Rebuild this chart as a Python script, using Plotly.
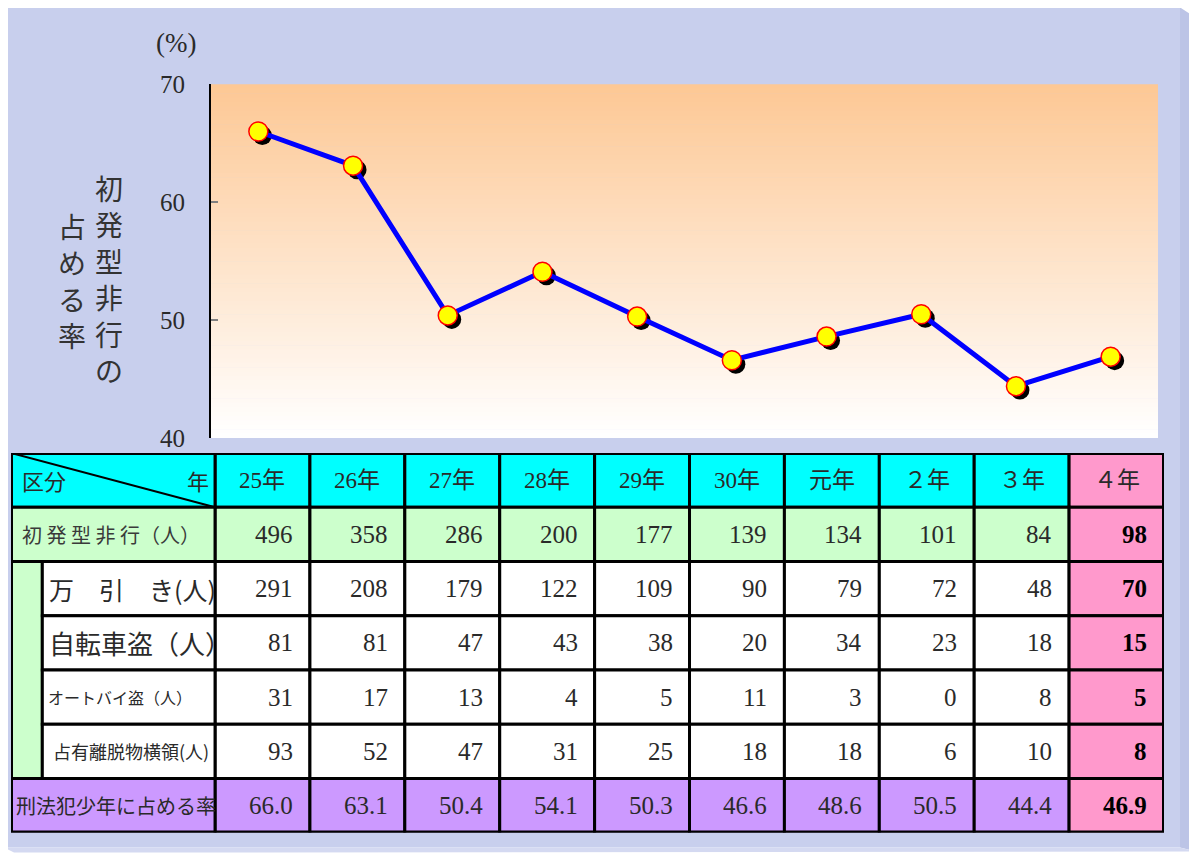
import plotly.graph_objects as go

# ---------------- data ----------------
categories = ["25年", "26年", "27年", "28年", "29年", "30年", "元年", "２年", "３年", "４年"]
first_offense = [496, 358, 286, 200, 177, 139, 134, 101, 84, 98]
shoplifting = [291, 208, 179, 122, 109, 90, 79, 72, 48, 70]
bicycle_theft = [81, 81, 47, 43, 38, 20, 34, 23, 18, 15]
motorbike_theft = [31, 17, 13, 4, 5, 11, 3, 0, 8, 5]
embezzlement = [93, 52, 47, 31, 25, 18, 18, 6, 10, 8]
rate = [66.0, 63.1, 50.4, 54.1, 50.3, 46.6, 48.6, 50.5, 44.4, 46.9]
row_labels = ["初 発 型 非 行（人）", "万　引　き(人)", "自転車盗（人）",
              "オートバイ盗（人）", "占有離脱物横領(人)", "刑法犯少年に占める率"]
y_ticks = [40, 50, 60, 70]

# ---------------- geometry helpers ----------------
W, H = 1197, 855
OX, OY, PH = 8.0, 20.6, 828.8   # observed placement of the paper area in the page


def fx(p):
    return (p - OX) / W


def fy(p):
    return 1 - (p - OY) / PH


SERIF = "Liberation Serif, Noto Sans CJK JP"
JP = "Noto Sans CJK JP"
TXT = "#2a2a2a"

fig = go.Figure()

# shadow markers (same data, axes shifted a few pixels)
fig.add_trace(go.Scatter(x=categories, y=rate, mode="markers",
                         marker=dict(color="black", size=19),
                         xaxis="x", yaxis="y", hoverinfo="skip", showlegend=False))
# main line
fig.add_trace(go.Scatter(x=categories, y=rate, mode="lines+markers",
                         line=dict(color="#0000ff", width=5),
                         marker=dict(color="#ffff00", size=19,
                                     line=dict(color="#ff0000", width=1.5)),
                         xaxis="x2", yaxis="y2", showlegend=False))
# table axes placeholder
fig.add_trace(go.Scatter(x=[None], y=[None], mode="markers", xaxis="x3", yaxis="y3",
                         showlegend=False, hoverinfo="skip"))

shapes = []
# panel background
shapes.append(dict(type="rect", xref="paper", yref="paper", x0=fx(4), x1=fx(1180),
                   y0=fy(848), y1=fy(7), fillcolor="#c8cfed", line=dict(width=0), layer="below"))
shapes.append(dict(type="path", xref="paper", yref="paper",
                   path=f"M {fx(1180)} {fy(7)} L {fx(1197)} {fy(18)} L {fx(1197)} {fy(852)} "
                        f"L {fx(1180)} {fy(848)} Z",
                   fillcolor="#bcc4e6", line=dict(width=0), layer="below"))
shapes.append(dict(type="path", xref="paper", yref="paper",
                   path=f"M {fx(4)} {fy(848)} L {fx(1180)} {fy(848)} L {fx(1197)} {fy(852)} "
                        f"L {fx(14)} {fy(853)} Z",
                   fillcolor="#d4d9f1", line=dict(width=0), layer="below"))

# gradient plot background
top_c = (253, 200, 149)
bot_c = (255, 255, 255)
N = 80
y_top, y_bot = 84, 438
for i in range(N):
    t = i / (N - 1)
    col = tuple(round(top_c[k] + (bot_c[k] - top_c[k]) * t) for k in range(3))
    a = y_top + (y_bot - y_top) * i / N
    b = y_top + (y_bot - y_top) * (i + 1) / N + 0.6
    shapes.append(dict(type="rect", xref="paper", yref="paper", x0=fx(211), x1=fx(1158),
                       y0=fy(min(b, y_bot)), y1=fy(a),
                       fillcolor="rgb(%d,%d,%d)" % col, line=dict(width=0), layer="below"))

# ---------------- table ----------------
LW = 2.15
IND = 0.33
CYAN, GREEN, PINK, PURPLE, WHITE = "#00ffff", "#ccffcc", "#ff99cc", "#cc99ff", "#ffffff"
BL = dict(color="black", width=3)


def cell(x0, x1, y0, y1, fill, line=BL):
    shapes.append(dict(type="rect", xref="x3", yref="y3", x0=x0, x1=x1, y0=y0, y1=y1,
                       fillcolor=fill, line=line))


row_fill = [CYAN, GREEN, WHITE, WHITE, WHITE, WHITE, PURPLE]
for r in range(7):
    for c in range(len(categories)):
        fill = PINK if c == len(categories) - 1 else row_fill[r]
        cell(c, c + 1, r, r + 1, fill)
# label column
cell(-LW, 0, 0, 1, CYAN)
cell(-LW, 0, 1, 2, GREEN)
cell(-LW, -LW + IND, 2, 6, GREEN)
for r in range(2, 6):
    cell(-LW + IND, 0, r, r + 1, WHITE)
cell(-LW, 0, 6, 7, PURPLE)
shapes.append(dict(type="line", xref="x3", yref="y3", x0=-LW, y0=0, x1=0, y1=1,
                   line=dict(color="black", width=2)))
shapes.append(dict(type="rect", xref="x3", yref="y3", x0=-LW, x1=len(categories), y0=0, y1=7,
                   line=dict(color="black", width=4), fillcolor="rgba(0,0,0,0)"))

ann = []
# header
ann.append(dict(text="区分", xref="paper", yref="y3", x=fx(20), y=0.5, xanchor="left",
                yanchor="middle", showarrow=False, font=dict(family=JP, size=22, color=TXT)))
ann.append(dict(text="年", xref="paper", yref="y3", x=fx(211), y=0.5, xanchor="right",
                yanchor="middle", showarrow=False, font=dict(family=JP, size=22, color=TXT)))
for c, lab in enumerate(categories):
    ann.append(dict(text=lab, xref="x3", yref="y3", x=c + 0.5, y=0.5, xanchor="center",
                    yanchor="middle", showarrow=False, font=dict(family=SERIF, size=23, color=TXT)))

label_x = [20, 47, 47, 46, 51, 14]
label_size = [20, 25, 26, 16, 18, 20]
for i, lab in enumerate(row_labels):
    ann.append(dict(text=lab, xref="paper", yref="y3", x=fx(label_x[i]), y=i + 1.5,
                    xanchor="left", yanchor="middle", showarrow=False,
                    font=dict(family=JP, size=label_size[i], color="#3a3a3a" if i == 0 else TXT)))

rows = [first_offense, shoplifting, bicycle_theft, motorbike_theft, embezzlement, rate]
for r, vals in enumerate(rows):
    for c, v in enumerate(vals):
        s = f"{v:.1f}" if r == 5 else str(v)
        last = c == len(vals) - 1
        ann.append(dict(text=f"<b>{s}</b>" if last else s, xref="x3", yref="y3", x=c + 1,
                        y=r + 1.5, xanchor="right", yanchor="middle", xshift=-15,
                        showarrow=False,
                        font=dict(family=SERIF, size=25, color="black" if last else TXT)))

# axis unit and vertical title
ann.append(dict(text="(%)", xref="paper", yref="paper", x=fx(176), y=fy(43), xanchor="center",
                yanchor="middle", showarrow=False, font=dict(family=SERIF, size=27, color=TXT)))
ann.append(dict(text="<br>".join("初発型非行の"), xref="paper", yref="paper", x=fx(109), y=fy(279),
                xanchor="center", yanchor="middle", showarrow=False,
                font=dict(family=JP, size=28, color="#333333")))
ann.append(dict(text="<br>".join("占める率"), xref="paper", yref="paper", x=fx(72), y=fy(280),
                xanchor="center", yanchor="middle", showarrow=False,
                font=dict(family=JP, size=28, color="#333333")))

hidden = dict(visible=False, showgrid=False, zeroline=False)
fig.update_layout(
    width=W, height=H, autosize=False,
    margin=dict(l=0, r=0, t=0, b=0),
    paper_bgcolor="white", plot_bgcolor="rgba(0,0,0,0)",
    showlegend=False,
    xaxis=dict(domain=[fx(215), fx(1162)], range=[-0.5, 9.5], anchor="y",
               categoryorder="array", categoryarray=categories, fixedrange=True, **hidden),
    yaxis=dict(domain=[fy(442), fy(88)], range=[40, 70], anchor="x", fixedrange=True, **hidden),
    xaxis2=dict(domain=[fx(211), fx(1158)], range=[-0.5, 9.5], anchor="y2",
                categoryorder="array", categoryarray=categories,
                showticklabels=False, showline=False, showgrid=False, zeroline=False, ticks=""),
    yaxis2=dict(domain=[fy(438), fy(84)], range=[40, 70], anchor="x2",
                tickvals=y_ticks, showline=True, linecolor="black", linewidth=2,
                ticks="inside", ticklen=7, tickcolor="#808080", tickwidth=1.5,
                showgrid=False, zeroline=False, ticklabelstandoff=19,
                tickfont=dict(family=SERIF, size=25, color=TXT)),
    xaxis3=dict(domain=[fx(11), fx(1164)], range=[-LW, len(categories)], anchor="y3", **hidden),
    yaxis3=dict(domain=[fy(833), fy(453)], range=[7, 0], anchor="x3", **hidden),
    shapes=shapes,
    annotations=ann,
)

fig.write_html("out.html")
